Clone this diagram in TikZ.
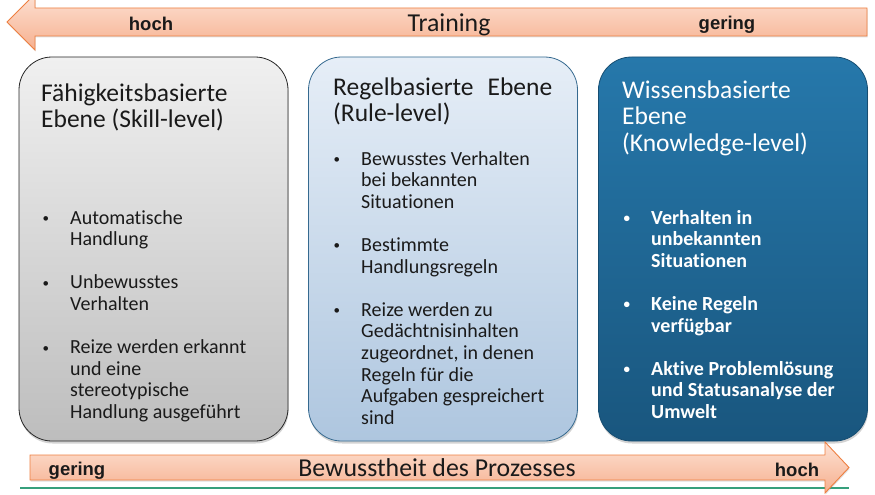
\documentclass[tikz,border=0pt]{standalone}
\usepackage{fontspec}
\setmainfont{Carlito}[RawFeature={-liga;-dlig;-clig}]
\newfontfamily\tagfont{Liberation Sans}
\usetikzlibrary{shadows}

\definecolor{inkdark}{HTML}{1A1A1A}
\definecolor{arrowline}{HTML}{EE7F40}
\definecolor{arrowtop}{HTML}{FDE1D3}
\definecolor{arrowbot}{HTML}{F6B08F}
\definecolor{skilltop}{HTML}{F0F0F0}
\definecolor{skillbot}{HTML}{BDBDBD}
\definecolor{ruletop}{HTML}{E6EEF7}
\definecolor{rulebot}{HTML}{AEC6DF}
\definecolor{ruleline}{HTML}{35698F}
\definecolor{knowtop}{HTML}{2678AB}
\definecolor{knowbot}{HTML}{19567E}
\definecolor{groundgreen}{HTML}{36A07C}

% small bullet, raised to sit at mid x-height
\newcommand\smallbullet{\raisebox{1.6pt}{\fontsize{13}{13}\selectfont\textbullet}}
% bullet item with hanging indent; \newline breaks lines inside an item
\newcommand\bitem[1]{\par\hangindent=29pt\hangafter=1\noindent\makebox[29pt][l]{\hspace{1.5pt}\smallbullet}#1}
\newcommand\itemgap{\par\vskip\baselineskip}
\newcommand\titlesize{\fontsize{25.5}{26.7}\selectfont}
\newcommand\itemsize{\fontsize{20}{21.6}\selectfont}

\tikzset{
  panel/.style={rounded corners=33pt, inner sep=0pt, minimum width=269pt,
    minimum height=384pt, line width=0.8pt,
    drop shadow={opacity=0.35, shadow xshift=0.6pt, shadow yshift=-2.5pt}},
  skillpanel/.style={panel, draw=black!85, top color=skilltop, bottom color=skillbot},
  rulepanel/.style={panel, draw=ruleline, top color=ruletop, bottom color=rulebot},
  knowpanel/.style={panel, draw=knowbot!90!black, top color=knowtop, bottom color=knowbot},
  textblock/.style={anchor=base west, inner sep=0pt, text=inkdark},
  arrowbody/.style={draw=arrowline, line width=0.9pt, line join=miter,
    top color=arrowtop, bottom color=arrowbot,
    drop shadow={opacity=0.25, shadow xshift=0.6pt, shadow yshift=-1.5pt}},
  tag/.style={anchor=base, inner sep=0pt, text=inkdark, font=\tagfont\bfseries\fontsize{18.5}{20}\selectfont},
  arrowtitle/.style={anchor=base, inner sep=0pt, text=inkdark, font=\fontsize{25.8}{28}\selectfont},
}

\begin{document}
\begin{tikzpicture}[x=1pt,y=-1pt]
\useasboundingbox (0,0) rectangle (875,495);

% ---- top arrow: Training (pointing left)
\path[arrowbody] (867,8) -- (35,8) -- (35,-6) -- (7,22) -- (35,50) -- (35,36) -- (867,36) -- cycle;
\node[tag] (trainhigh) at (151,31) {hoch};
\node[arrowtitle] (training) at (449,31.5) {Training};
\node[tag] (trainlow) at (727,30) {gering};

% ---- three panels
\node[skillpanel] (skill) at (153.5,249) {};
\node[rulepanel] (rule) at (443,249) {};
\node[knowpanel] (know) at (733,249) {};

% skill-level text
\node[textblock] (skilltitle) at (41,101) {\begin{minipage}[t]{245pt}\titlesize
  Fähigkeitsbasierte\\Ebene (Skill-level)\end{minipage}};
\node[textblock] (skillitems) at (41,224) {\begin{minipage}[t]{240pt}\itemsize\raggedright
  \bitem{Automatische\newline Handlung}\itemgap
  \bitem{Unbewusstes\newline Verhalten}\itemgap
  \bitem{Reize werden erkannt\newline und eine\newline stereotypische\newline Handlung ausgeführt}\end{minipage}};

% rule-level text
\node[textblock] (ruletitle) at (333,95) {\begin{minipage}[t]{245pt}\titlesize
  Regelbasierte\hspace{0.55em}Ebene\\(Rule-level)\end{minipage}};
\node[textblock] (ruleitems) at (332,165) {\begin{minipage}[t]{240pt}\itemsize\raggedright
  \bitem{Bewusstes Verhalten\newline bei bekannten\newline Situationen}\itemgap
  \bitem{Bestimmte\newline Handlungsregeln}\itemgap
  \bitem{Reize werden zu\newline Gedächtnisinhalten\newline zugeordnet, in denen\newline Regeln für die\newline Aufgaben gespreichert\newline sind}\end{minipage}};

% knowledge-level text
\node[textblock, text=white] (knowtitle) at (622,98) {\begin{minipage}[t]{245pt}\titlesize
  Wissensbasierte\\Ebene\\(Knowledge-level)\end{minipage}};
\node[textblock, text=white] (knowitems) at (622,224) {\begin{minipage}[t]{240pt}\itemsize\bfseries\raggedright
  \bitem{Verhalten in\newline unbekannten\newline Situationen}\itemgap
  \bitem{Keine Regeln\newline verfügbar}\itemgap
  \bitem{Aktive Problemlösung\newline und Statusanalyse der\newline Umwelt}\end{minipage}};

% ---- ground line and bottom arrow: awareness (pointing right)
\coordinate (lineleft) at (20,488);
\coordinate (lineright) at (849,488);
\draw[groundgreen, line width=2.5pt] (lineleft) -- (lineright);
\path[arrowbody] (30,455) -- (825,455) -- (825,442) -- (849,467.5) -- (825,493) -- (825,480) -- (30,480) -- cycle;
\node[tag] (awarelow) at (77,475) {gering};
\node[arrowtitle] (awareness) at (437,476) {Bewusstheit des Prozesses};
\node[tag] (awarehigh) at (797,476) {hoch};
\end{tikzpicture}
\end{document}
